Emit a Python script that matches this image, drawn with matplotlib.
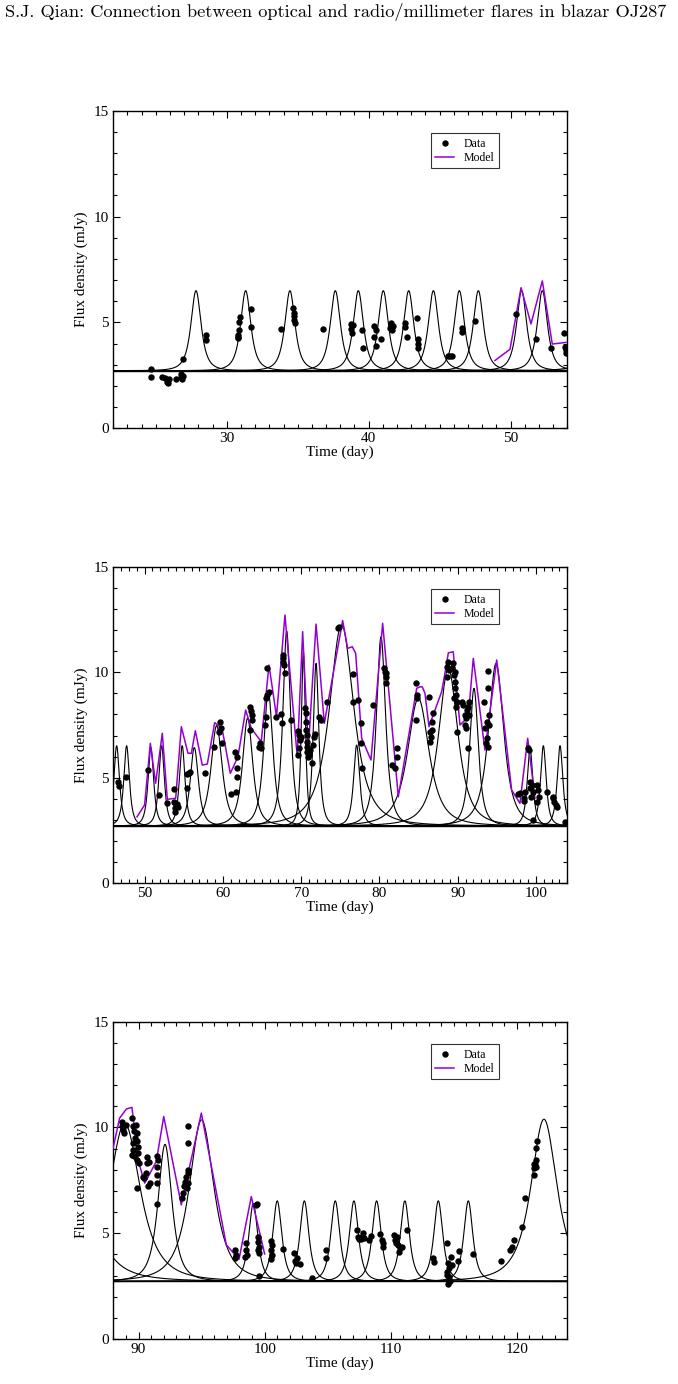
import numpy as np
import matplotlib
matplotlib.use('Agg')
import matplotlib.pyplot as plt
from matplotlib.ticker import MultipleLocator

plt.rcParams['font.family'] = ['Liberation Serif', 'DejaVu Serif']
plt.rcParams['axes.unicode_minus'] = False

# Quiescent level (mJy)
base = 2.72

# ---- Panel 1: days 22-54 ----
t1 = [24.66, 24.66, 25.41, 25.64, 25.80, 25.85, 25.90, 26.42,
      26.80, 26.80, 26.85, 26.90, 26.90, 28.50, 28.50,
      30.77, 30.80, 30.82, 30.86, 30.88, 30.93, 31.68, 31.70,
      33.80, 34.70, 34.72, 34.74, 34.76, 34.78, 36.80,
      38.73, 38.73, 38.80, 38.92, 39.50, 39.62,
      40.37, 40.40, 40.50, 40.50, 40.87, 41.50, 41.57, 41.66, 41.70,
      42.56, 42.56, 42.68, 43.43, 43.45, 43.50, 43.50,
      45.60, 45.70, 45.85, 46.60, 46.60, 47.50,
      50.40, 51.77, 52.83, 53.77, 53.84, 53.90, 53.90]
f1 = [2.79, 2.44, 2.41, 2.36, 2.20, 2.13, 2.31, 2.35,
      2.44, 2.57, 2.31, 2.47, 3.29, 4.41, 4.17,
      4.41, 4.25, 4.30, 4.64, 5.04, 5.24, 5.64, 4.80,
      4.67, 5.70, 5.43, 5.30, 5.12, 4.96, 4.67,
      4.91, 4.67, 4.52, 4.88, 4.64, 3.81,
      4.85, 4.33, 4.64, 3.90, 4.22, 4.75, 4.99, 4.64, 4.83,
      4.80, 4.99, 4.30, 5.19, 4.20, 3.97, 3.78,
      3.40, 3.40, 3.40, 4.75, 4.56, 5.07,
      5.38, 4.20, 3.78, 4.49, 3.86, 3.54, 3.70]
m1_t = [48.90, 49.96, 50.74, 51.44, 52.24, 52.94, 53.96]
m1_f = [3.20, 3.73, 6.64, 4.93, 6.96, 3.98, 4.06]
fl1_t0 = [27.83, 31.33, 34.45, 37.65, 39.27, 41.03, 42.82, 44.56, 46.39, 47.73, 50.78, 52.24, 56.35]
fl1_pk = [6.50, 6.50, 6.50, 6.50, 6.50, 6.50, 6.50, 6.50, 6.50, 6.50, 6.50, 6.50, 6.43]
fl1_w = [0.55, 0.55, 0.55, 0.55, 0.55, 0.55, 0.55, 0.55, 0.55, 0.55, 0.55, 0.55, 0.80]

# ---- Panel 2: days 46-104 ----
t2 = [46.64, 46.72, 47.58, 50.39, 51.88, 52.86,
      53.75, 53.80, 53.90, 54.00, 54.10, 54.30, 53.85,
      55.37, 55.45, 55.67, 55.80, 57.75, 58.82,
      59.55, 59.63, 59.75, 59.88, 60.99,
      61.60, 61.75, 61.75, 61.67, 61.85,
      63.45, 63.55, 63.67, 63.76, 63.45,
      64.74, 64.65, 64.87, 65.38, 65.46, 65.59, 65.50, 65.68, 65.93, 66.74,
      67.42, 67.50, 67.64, 67.72, 67.80, 67.89, 67.67, 68.70,
      69.64, 69.76, 69.85, 69.93, 69.76, 69.64,
      70.50, 70.57, 70.57, 70.60, 70.70, 70.70, 70.80, 70.80, 70.90, 71.00, 71.10,
      71.40, 71.50, 71.60, 71.77, 72.32, 72.50, 73.26,
      74.75, 74.88, 76.58, 76.66, 77.20, 77.64, 77.60, 77.73, 79.22,
      80.60, 80.70, 80.80, 80.90, 80.80, 81.56, 81.99, 82.20, 82.20,
      84.67, 84.67, 84.76, 84.84,
      86.37, 86.46, 86.46, 86.55, 86.67, 86.76, 86.88,
      88.59, 88.80, 88.68, 88.94,
      89.30, 89.40, 89.50, 89.60, 89.70, 89.80, 89.90, 89.80, 89.70, 89.50, 89.87,
      90.50, 90.70, 90.90, 90.90, 91.06, 91.10, 91.20,
      91.36, 91.44, 91.49, 91.36,
      93.36, 93.50, 93.60, 93.70, 93.80, 93.90, 93.90, 93.90, 94.03, 94.03,
      97.75, 97.96, 98.47, 98.47, 98.60, 98.94, 99.15,
      99.24, 99.24, 99.32, 99.45, 99.58, 99.58,
      100.17, 100.30, 100.38, 100.17, 101.45,
      102.13, 102.20, 102.35, 102.56, 102.65, 103.70]
f2 = [4.82, 4.61, 5.05, 5.37, 4.18, 3.79,
      4.47, 3.87, 3.55, 3.71, 3.76, 3.60, 3.40,
      4.50, 5.18, 5.21, 5.26, 5.21, 6.47,
      7.15, 7.66, 7.34, 6.63, 4.22,
      6.24, 5.45, 5.05, 4.31, 6.00,
      8.37, 8.16, 7.97, 7.74, 7.26,
      6.63, 6.47, 6.40, 7.50, 7.90, 8.92, 8.76, 10.18, 9.08, 7.90,
      8.00, 7.58, 10.82, 10.66, 10.34, 9.95, 10.50, 7.74,
      6.08, 6.40, 6.79, 6.95, 7.03, 7.23,
      8.29, 8.05, 7.66, 7.26, 7.03, 6.71, 6.47, 6.24, 6.00, 6.08, 6.32,
      5.68, 6.55, 6.95, 7.07, 7.90, 7.74, 8.60,
      12.08, 12.16, 9.92, 8.60, 8.68, 7.58, 6.66, 5.45, 8.45,
      10.18, 10.03, 9.95, 9.79, 9.47, 5.60, 5.45, 6.40, 6.00,
      9.50, 7.74, 8.92, 8.76,
      8.84, 7.18, 6.71, 6.95, 7.26, 7.66, 8.05,
      10.26, 10.50, 9.79, 10.10,
      10.18, 10.42, 9.87, 9.55, 9.24, 8.92, 8.60, 8.37, 10.03, 8.76, 7.18,
      8.60, 8.45, 7.97, 7.50, 7.34, 7.82, 8.21,
      8.37, 7.97, 8.60, 6.40,
      8.60, 7.34, 6.63, 7.66, 6.87, 6.47, 10.06, 9.24, 7.97, 7.50,
      4.22, 4.26, 4.03, 3.90, 4.34, 6.40, 6.32,
      4.82, 4.50, 4.10, 4.66, 4.34, 3.00,
      4.66, 4.42, 4.10, 3.87, 4.31,
      4.10, 4.03, 3.87, 3.71, 3.63, 2.92]
m2_t = [49.03, 50.00, 50.73, 51.41, 52.26, 52.90, 53.97, 54.69, 55.54, 55.97,
        56.48, 57.37, 58.01, 58.95, 59.89, 60.95, 61.93, 62.91, 63.63, 64.90,
        65.89, 66.85, 67.93, 69.50, 70.19, 70.91, 71.90, 72.96, 75.30, 75.94,
        76.53, 76.96, 77.73, 78.92, 80.41, 82.41, 84.76, 85.18, 85.47, 85.82,
        86.33, 87.95, 88.59, 88.80, 89.43, 90.29, 91.35, 91.99, 93.48, 94.98,
        96.89, 97.95, 98.94, 99.87]
m2_f = [3.15, 3.71, 6.63, 4.74, 7.11, 3.98, 4.03, 7.42, 6.16, 6.16,
        7.23, 5.60, 5.65, 7.61, 7.34, 5.21, 6.00, 8.21, 7.34, 6.71,
        10.34, 7.90, 12.71, 6.00, 11.92, 6.31, 12.28, 7.58, 12.45, 11.13,
        11.21, 10.90, 6.87, 5.84, 12.32, 4.10, 9.24, 9.31, 9.31, 9.00,
        7.42, 9.08, 10.42, 10.92, 10.97, 7.50, 7.89, 10.66, 6.31, 10.58,
        4.42, 3.79, 6.87, 4.03]
fl2_t0 = [46.43, 47.70, 50.80, 52.17, 54.80, 56.35, 59.20, 63.16, 65.80, 68.15, 70.28,
          71.90, 75.17, 77.09, 80.20, 84.97, 88.80, 92.08, 94.90, 99.24, 100.94, 103.07]
fl2_pk = [6.52, 6.52, 6.43, 6.52, 6.52, 6.43, 7.47, 7.82, 9.08, 11.95, 10.97,
          10.42, 12.24, 6.55, 11.68, 8.76, 10.18, 9.24, 10.42, 6.40, 6.52, 6.52]
fl2_w = [0.55, 0.55, 0.55, 0.55, 0.55, 0.80, 1.10, 1.00, 0.90, 0.75, 0.40,
         0.55, 2.40, 0.60, 0.90, 2.10, 1.90, 0.85, 1.50, 0.55, 0.55, 0.55]

# ---- Panel 3: days 88-124 ----
t3 = [88.66, 88.79, 88.74, 88.87, 89.00, 88.66,
      89.45, 89.53, 89.64, 89.72, 89.53, 89.59, 89.45, 89.64,
      89.80, 89.85, 89.90, 89.98, 89.93, 89.85, 90.06, 89.90,
      90.33, 90.46, 90.60, 90.70, 90.70, 90.85, 90.90, 90.78,
      91.44, 91.49, 91.57, 91.44, 91.49, 91.44,
      93.42, 93.50, 93.60, 93.68, 93.76, 93.82, 93.90,
      93.95, 93.95, 93.95, 93.90,
      97.65, 97.73, 97.65, 98.50, 98.52, 98.57, 98.44,
      99.31, 99.42, 99.50, 99.50, 99.58, 99.45, 99.55, 99.55,
      100.48, 100.48, 100.48, 100.60, 100.56, 101.43,
      102.35, 102.40, 102.49, 102.59, 102.80, 103.78, 104.84, 104.84,
      107.30, 107.38, 107.48, 107.64, 107.75, 107.77, 107.88, 108.30, 108.40,
      109.15, 109.28, 109.36, 109.41,
      110.28, 110.33, 110.39, 110.47, 110.60, 110.65, 110.73, 110.86, 111.26,
      113.38, 113.43,
      114.43, 114.57, 114.65, 114.43, 114.48, 114.61, 114.69, 114.57, 114.75, 114.83,
      115.36, 115.44, 116.55, 118.72, 119.46, 119.59, 119.78, 120.38, 120.65,
      121.36, 121.38, 121.44, 121.50, 121.52, 121.57, 121.33, 121.50]
f3 = [10.28, 10.08, 9.89, 9.73, 10.13, 10.05,
      10.44, 10.05, 9.81, 9.50, 9.26, 8.94, 8.68, 8.63,
      10.13, 9.73, 9.34, 9.10, 8.79, 8.47, 8.31, 7.13,
      7.68, 7.60, 7.84, 8.60, 8.31, 8.39, 7.37, 7.24,
      8.63, 8.15, 8.44, 7.76, 7.37, 6.37,
      6.66, 6.89, 7.21, 7.44, 7.68, 7.13, 7.37,
      10.05, 9.26, 8.00, 7.84,
      4.21, 3.97, 3.82, 4.53, 4.21, 3.97, 3.86,
      6.34, 6.39, 4.84, 4.60, 4.37, 4.21, 4.05, 3.00,
      4.65, 4.21, 3.77, 4.45, 3.97, 4.24,
      4.08, 3.71, 3.58, 3.82, 3.55, 2.90, 4.21, 3.82,
      5.16, 4.84, 4.75, 4.72, 4.84, 5.00, 4.76, 4.68, 4.87,
      4.97, 4.68, 4.53, 4.37,
      4.92, 4.68, 4.53, 4.84, 4.45, 4.13, 4.29, 4.37, 5.16,
      3.82, 3.66,
      4.56, 3.58, 3.34, 3.19, 3.03, 2.95, 2.76, 2.60, 3.90, 3.50,
      3.71, 4.18, 4.00, 3.71, 4.21, 4.34, 4.68, 5.31, 6.66,
      7.73, 8.08, 8.28, 8.47, 9.02, 9.34, 8.28, 8.15]
m3_t = [87.98, 88.50, 89.03, 89.48, 89.96, 90.49, 91.41, 92.00, 93.39, 94.98,
        96.96, 97.97, 98.94, 100.00]
m3_f = [9.02, 10.44, 10.87, 10.95, 8.47, 7.37, 8.39, 10.52, 6.34, 10.68,
        4.45, 3.77, 6.73, 4.02]
fl3_t0 = [84.97, 88.90, 92.10, 95.00, 99.10, 101.00, 103.15, 105.60, 107.08,
          108.88, 111.12, 113.77, 116.15, 122.15]
fl3_pk = [8.76, 10.20, 9.20, 10.36, 6.40, 6.53, 6.53, 6.53, 6.53,
          6.53, 6.53, 6.53, 6.53, 10.39]
fl3_w = [2.10, 1.90, 0.85, 1.50, 0.55, 0.55, 0.55, 0.55, 0.55,
         0.55, 0.55, 0.55, 0.55, 1.60]


def flare(t, t0, peak, w):
    # symmetric elementary flare on top of the quiescent level
    return base + (peak - base) * (1.0 + ((t - t0) / w) ** 2) ** -1.5


purple = '#9400D3'
fig = plt.figure(figsize=(6.78, 13.84), dpi=100)

# running head of the journal page (Computer Modern, shipped with matplotlib)
fig.text(5 / 678, 1 - 12 / 1384,
         'S.J. Qian: Connection between optical and radio/millimeter flares in blazar OJ287',
         family='cmr10', fontsize=13.2, ha='left', va='center')

panels = [
    (t1, f1, m1_t, m1_f, fl1_t0, fl1_pk, fl1_w, (22, 54), 110.7, 428.3),
    (t2, f2, m2_t, m2_f, fl2_t0, fl2_pk, fl2_w, (46, 104), 566.7, 883.3),
    (t3, f3, m3_t, m3_f, fl3_t0, fl3_pk, fl3_w, (88, 124), 1021.7, 1339.0),
]

for t, f, mt, mf, ft0, fpk, fw, xlim, top, bot in panels:
    ax = fig.add_axes([113.3 / 678, 1 - bot / 1384, 454 / 678, (bot - top) / 1384])
    tt = np.linspace(xlim[0], xlim[1], 3000)
    ax.axhline(base, color='black', lw=1.0, zorder=1)
    for t0, pk, w in zip(ft0, fpk, fw):
        ax.plot(tt, flare(tt, t0, pk, w), color='black', lw=0.8, zorder=2)
    ax.plot(mt, mf, color=purple, lw=1.1, zorder=3, label='Model')
    ax.plot(t, f, 'o', color='black', ms=4.6, mec='none', zorder=4, label='Data')

    ax.set_xlim(*xlim)
    ax.set_ylim(0, 15)
    ax.xaxis.set_major_locator(MultipleLocator(10))
    ax.xaxis.set_minor_locator(MultipleLocator(1))
    ax.yaxis.set_major_locator(MultipleLocator(5))
    ax.yaxis.set_minor_locator(MultipleLocator(1))
    ax.tick_params(which='both', direction='in', top=True, right=True, labelsize=11, pad=3)
    ax.tick_params(which='major', length=5, width=0.8)
    ax.tick_params(which='minor', length=3, width=0.8)
    for s in ax.spines.values():
        s.set_linewidth(1.0)
    ax.set_xlabel('Time (day)', fontsize=11, labelpad=0)
    ax.set_ylabel('Flux density (mJy)', fontsize=11, labelpad=4)

    handles, labels = ax.get_legend_handles_labels()
    leg = ax.legend(handles[::-1], labels[::-1], loc='upper left',
                    bbox_to_anchor=(0.699, 0.929), borderaxespad=0,
                    fontsize=8.5, frameon=True, fancybox=False,
                    handlelength=1.6, handletextpad=0.8, borderpad=0.4,
                    labelspacing=0.15)
    leg.get_frame().set_edgecolor('black')
    leg.get_frame().set_linewidth(0.8)

fig.savefig('out.png', dpi=100)
